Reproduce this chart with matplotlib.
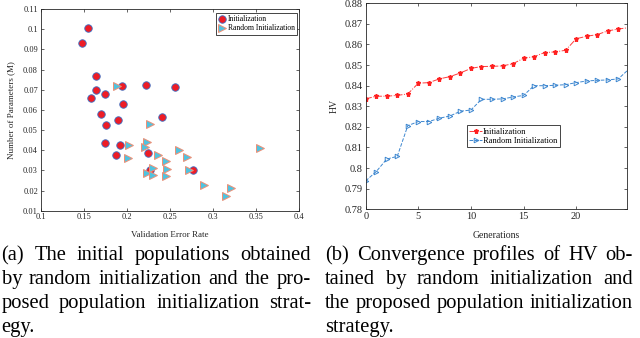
import numpy as np
import matplotlib
matplotlib.use("Agg")
import matplotlib.pyplot as plt
from matplotlib.ticker import FixedLocator, FormatStrFormatter

plt.rcParams['font.family'] = ['Liberation Serif', 'DejaVu Serif']

# (a) initial populations
init_err = [0.155, 0.148, 0.164, 0.1643, 0.159, 0.1752, 0.1946, 0.222, 0.2555, 0.1957,
            0.1697, 0.2405, 0.1895, 0.1763, 0.1744, 0.1919, 0.2248, 0.1880, 0.2267, 0.2767]
init_par = [0.1007, 0.0929, 0.0767, 0.0698, 0.0660, 0.0680, 0.0718, 0.0722, 0.0715, 0.0629,
            0.0581, 0.0566, 0.0550, 0.0524, 0.0436, 0.0424, 0.0385, 0.0375, 0.0302, 0.0302]
rand_err = [0.1884, 0.2267, 0.2031, 0.2240, 0.2213, 0.2019, 0.2357, 0.2605, 0.2453, 0.2702,
            0.2302, 0.2233, 0.2302, 0.2469, 0.2461, 0.2725, 0.2899, 0.3209, 0.3155, 0.3547]
rand_par = [0.0717, 0.0530, 0.0428, 0.0443, 0.0418, 0.0362, 0.0377, 0.0402, 0.0346, 0.0364,
            0.0311, 0.0289, 0.0278, 0.0308, 0.0270, 0.0304, 0.0225, 0.0211, 0.0175, 0.0410]

# (b) HV convergence
gens = list(range(26))
hv_init = [0.8336, 0.8349, 0.8349, 0.8353, 0.8360, 0.8412, 0.8415, 0.8433, 0.8444, 0.8462,
           0.8484, 0.8493, 0.8494, 0.8496, 0.8507, 0.8533, 0.8541, 0.8561, 0.8564, 0.8572,
           0.8628, 0.8640, 0.8648, 0.8666, 0.8675, 0.8682]
hv_rand = [0.7938, 0.7983, 0.8044, 0.8057, 0.8206, 0.8226, 0.8226, 0.8242, 0.8253, 0.8276,
           0.8282, 0.8334, 0.8334, 0.8336, 0.8345, 0.8353, 0.8400, 0.8400, 0.8402, 0.8405,
           0.8415, 0.8423, 0.8426, 0.8428, 0.8433, 0.8480]

caption_a = ["(a) The initial populations obtained",
             "by random initialization and the pro-",
             "posed population initialization strat-",
             "egy."]
caption_b = ["(b) Convergence profiles of HV ob-",
             "tained by random initialization and",
             "the proposed population initialization",
             "strategy."]

W, H = 640, 338
fig = plt.figure(figsize=(6.4, 3.38), dpi=100)
edge = '#262626'


def style_axes(ax, size):
    ax.tick_params(direction='in', top=True, right=True, length=2.2, width=0.5,
                   labelsize=size, colors=edge, pad=2)
    for s in ax.spines.values():
        s.set_linewidth(0.6)
        s.set_color(edge)


# left panel
ax1 = fig.add_axes([40.7 / W, 1 - 210.7 / H, 258.3 / W, 201.7 / H])
ax1.plot(init_err, init_par, 'o', ls='none', ms=5.4, mfc='#ee1c25', mec='#3b6fc4',
         mew=0.6, label='Initialization')
ax1.plot(rand_err, rand_par, '>', ls='none', ms=5.6, mfc='#4fc3e0', mec='#ef8f75',
         mew=0.7, label='Random Initialization')
ax1.set_xlim(0.1, 0.4)
ax1.set_ylim(0.01, 0.11)
ax1.xaxis.set_major_locator(FixedLocator(np.arange(0.1, 0.401, 0.05)))
ax1.yaxis.set_major_locator(FixedLocator(np.arange(0.01, 0.1101, 0.01)))
ax1.xaxis.set_major_formatter(FormatStrFormatter('%g'))
ax1.yaxis.set_major_formatter(FormatStrFormatter('%g'))
style_axes(ax1, 6)
ax1.set_xlabel('Validation Error Rate', fontsize=6.5, color=edge)
ax1.set_ylabel('Number of Parameters (M)', fontsize=6.5, color=edge)
ax1.xaxis.set_label_coords(0.5, -0.10)
ax1.yaxis.set_label_coords(-0.10, 0.5)
leg1 = ax1.legend(loc='upper right', bbox_to_anchor=(0.992, 0.98), borderaxespad=0,
                  fontsize=5.5, fancybox=False, edgecolor=edge, framealpha=1,
                  handlelength=0.8, handletextpad=0.4, borderpad=0.3, labelspacing=0.15)
leg1.get_frame().set_linewidth(0.6)

# right panel
ax2 = fig.add_axes([365.7 / W, 1 - 209.3 / H, 261 / W, 206 / H])
ax2.plot(gens, hv_init, color='#ff3b3b', ls='-.', lw=0.7, marker='*', ms=3.6,
         mfc='#ff2020', mec='#ff2020', markevery=slice(0, 25), label='Initialization')
ax2.plot(gens, hv_rand, color='#3d87d0', ls='--', lw=0.7, marker='>', ms=3.3,
         mfc='none', mec='#3d87d0', mew=0.7, markevery=slice(0, 25),
         label='Random Initialization')
ax2.set_xlim(0, 24.8)
ax2.set_ylim(0.78, 0.88)
ax2.xaxis.set_major_locator(FixedLocator([0, 5, 10, 15, 20]))
ax2.yaxis.set_major_locator(FixedLocator(np.arange(0.78, 0.8801, 0.01)))
ax2.yaxis.set_major_formatter(FormatStrFormatter('%g'))
style_axes(ax2, 7.5)
ax2.set_xlabel('Generations', fontsize=7, color=edge)
ax2.set_ylabel('HV', fontsize=7, color=edge)
ax2.xaxis.set_label_coords(0.5, -0.105)
ax2.yaxis.set_label_coords(-0.102, 0.5)
leg2 = ax2.legend(loc='upper left', bbox_to_anchor=(0.388, 0.409), borderaxespad=0,
                  fontsize=6, fancybox=False, edgecolor=edge, framealpha=1,
                  handlelength=1.5, handletextpad=0.1, borderpad=0.3, labelspacing=0.15)
leg2.get_frame().set_linewidth(0.6)

# justified captions
renderer = fig.canvas.get_renderer()
cap_size = 14.8
baselines = [260, 284, 308, 332]


def draw_caption(lines, x0, x1):
    for i, line in enumerate(lines):
        y = 1 - baselines[i] / H
        words = line.split(' ')
        if i == len(lines) - 1:
            fig.text(x0 / W, y, line, fontsize=cap_size, va='baseline', ha='left')
            continue
        texts = [fig.text(0, y, w, fontsize=cap_size, va='baseline', ha='left') for w in words]
        widths = [t.get_window_extent(renderer).width for t in texts]
        gap = (x1 - x0 - sum(widths)) / (len(words) - 1)
        x = x0
        for t, w in zip(texts, widths):
            t.set_x(x / W)
            x += w + gap


draw_caption(caption_a, 1.5, 311)
draw_caption(caption_b, 325, 633)

fig.savefig('out.png', dpi=100)
